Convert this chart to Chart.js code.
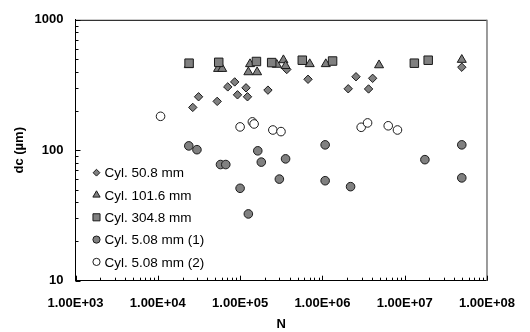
<!DOCTYPE html>
<html>
<head>
<meta charset="utf-8">
<script src="https://cdn.jsdelivr.net/npm/chart.js@4/dist/chart.umd.min.js"></script>
<style>
html,body{margin:0;padding:0;background:#fff;}
#wrap{width:530px;height:332px;position:relative;}
</style>
</head>
<body>
<div id="wrap"><canvas id="c" width="530" height="332"></canvas></div>
<script>
// ---- data ----
const seriesNames = ['Cyl. 50.8 mm', 'Cyl. 101.6 mm', 'Cyl. 304.8 mm', 'Cyl. 5.08 mm (1)', 'Cyl. 5.08 mm (2)'];

const cyl508N  = [2.66e4, 3.13e4, 5.27e4, 7.08e4, 8.6e4, 9.3e4, 1.18e5, 1.23e5, 2.18e5, 3.69e5, 6.69e5, 2.06e6, 2.56e6, 3.64e6, 4.08e6, 4.94e7];
const cyl508Dc = [213, 257, 237, 306, 334, 266, 301, 257, 289, 416, 350, 296, 366, 295, 356, 433];

const cyl1016N  = [2.38e4, 5.4e4, 6.06e4, 1.26e5, 1.32e5, 1.61e5, 2.79e5, 3.36e5, 3.57e5, 7.02e5, 1.10e6, 4.88e6, 4.94e7];
const cyl1016Dc = [450, 421, 421, 397, 458, 397, 453, 491, 443, 458, 458, 449, 494];

const cyl3048N  = [2.4e4, 5.5e4, 1.58e5, 2.42e5, 5.70e5, 1.33e6, 1.31e7, 1.93e7];
const cyl3048Dc = [465, 472, 479, 470, 490, 483, 465, 490];

const cyl5a_N  = [2.38e4, 2.99e4, 5.78e4, 6.70e4, 1.0e5, 1.26e5, 1.64e5, 1.81e5, 3.0e5, 3.57e5, 1.08e6, 1.08e6, 2.20e6, 1.76e7, 4.94e7, 4.94e7];
const cyl5a_Dc = [108, 101, 77.7, 77.7, 51.1, 32.5, 99, 81.1, 60.1, 85.9, 110, 58.4, 52.6, 84.7, 110, 61.4];

const cyl5b_N  = [1.08e4, 1.0e5, 1.41e5, 1.48e5, 2.50e5, 3.14e5, 2.96e6, 3.54e6, 6.31e6, 8.17e6];
const cyl5b_Dc = [182, 151, 165, 159, 143, 139, 150, 162, 154, 143];

const xTickValues = [1e3, 1e4, 1e5, 1e6, 1e7, 1e8];
const xTickLabels = ['1.00E+03', '1.00E+04', '1.00E+05', '1.00E+06', '1.00E+07', '1.00E+08'];
const yTickValues = [10, 100, 1000];
const yTickLabels = ['10', '100', '1000'];

// ---- build ----
function pts(xs, ys) { return xs.map((x, i) => ({x: x, y: ys[i]})); }

const GREY = '#808080';
const EDGE = '#1a1a1a';
const FONT = '"Liberation Sans", Arial, sans-serif';

const datasets = [
  {label: seriesNames[0], data: pts(cyl508N, cyl508Dc), pointStyle: 'rectRot', pointRadius: 4.2, backgroundColor: GREY, borderColor: EDGE, order: 5, legendRadius: 3.4},
  {label: seriesNames[1], data: pts(cyl1016N, cyl1016Dc), pointStyle: 'triangle', pointRadius: 5.2, backgroundColor: GREY, borderColor: EDGE, order: 4, legendRadius: 4.2},
  {label: seriesNames[2], data: pts(cyl3048N, cyl3048Dc), pointStyle: 'rect', pointRadius: 6, backgroundColor: GREY, borderColor: EDGE, order: 3, legendRadius: 5},
  {label: seriesNames[3], data: pts(cyl5a_N, cyl5a_Dc), pointStyle: 'circle', pointRadius: 4.3, backgroundColor: GREY, borderColor: EDGE, order: 2, legendRadius: 3.6},
  {label: seriesNames[4], data: pts(cyl5b_N, cyl5b_Dc), pointStyle: 'circle', pointRadius: 4.3, backgroundColor: '#ffffff', borderColor: EDGE, order: 1, legendRadius: 3.6}
];
datasets.forEach(d => { d.borderWidth = 1; d.pointHoverRadius = d.pointRadius; d.showLine = false; });

// minor/major ticks (inward) + frame + legend inside plot
const decorPlugin = {
  id: 'decor',
  afterDraw(chart) {
    const ctx = chart.ctx, a = chart.chartArea;
    const xs = chart.scales.x, ys = chart.scales.y;
    ctx.save();
    // frame top + right
    ctx.strokeStyle = '#000'; ctx.lineWidth = 1;
    ctx.beginPath(); ctx.moveTo(a.left, a.top + 0.5); ctx.lineTo(a.right, a.top + 0.5); ctx.stroke();
    ctx.strokeStyle = '#7a7a7a'; ctx.lineWidth = 1.5;
    ctx.beginPath(); ctx.moveTo(a.right, a.top); ctx.lineTo(a.right, a.bottom); ctx.stroke();
    // ticks
    ctx.strokeStyle = '#000'; ctx.lineWidth = 1;
    for (let e = 3; e <= 8; e++) {
      for (let m = 1; m <= 9; m++) {
        const v = m * Math.pow(10, e);
        if (v > 1e8) break;
        const px = Math.round(xs.getPixelForValue(v)) + 0.5;
        const len = m === 1 ? 5 : 3;
        ctx.beginPath(); ctx.moveTo(px, a.bottom); ctx.lineTo(px, a.bottom - len); ctx.stroke();
      }
    }
    for (let e = 1; e <= 3; e++) {
      for (let m = 1; m <= 9; m++) {
        const v = m * Math.pow(10, e);
        if (v > 1000) break;
        const py = Math.round(ys.getPixelForValue(v)) + 0.5;
        const len = m === 1 ? 5 : 3;
        ctx.beginPath(); ctx.moveTo(a.left, py); ctx.lineTo(a.left + len, py); ctx.stroke();
      }
    }
    // legend
    const lx = a.left + 21, ly0 = a.bottom - 108, step = 22.3;
    ctx.font = '13.5px ' + FONT;
    ctx.textBaseline = 'middle'; ctx.textAlign = 'left';
    chart.data.datasets.forEach((d, i) => {
      const y = ly0 + i * step;
      ctx.fillStyle = d.backgroundColor; ctx.strokeStyle = d.borderColor; ctx.lineWidth = 1;
      Chart.helpers.drawPoint(ctx, {pointStyle: d.pointStyle, radius: d.legendRadius, borderWidth: 1, rotation: 0}, lx, y);
      ctx.fillStyle = '#000';
      ctx.fillText(d.label, lx + 8, y + 1);
    });
    ctx.restore();
  }
};

new Chart(document.getElementById('c'), {
  type: 'scatter',
  data: {datasets: datasets},
  options: {
    responsive: false,
    animation: false,
    events: [],
    layout: {padding: {top: 15, right: 35, left: 0, bottom: 0}},
    plugins: {legend: {display: false}, tooltip: {enabled: false}},
    scales: {
      x: {
        type: 'logarithmic', min: 1e3, max: 1e8,
        afterBuildTicks(s) { s.ticks = xTickValues.map(v => ({value: v, major: true})); },
        afterFit(s) { s.height = 51.3; },
        ticks: {
          autoSkip: false, maxRotation: 0, padding: 15, color: '#000',
          font: {family: FONT, size: 13, weight: 'bold'},
          callback: (v) => { const i = xTickValues.indexOf(v); return i >= 0 ? xTickLabels[i] : ''; }
        },
        grid: {display: true, drawOnChartArea: false, drawTicks: false},
        border: {display: true, color: '#000', width: 1},
        title: {display: true, text: 'N', color: '#000', padding: {top: 0, bottom: 0}, font: {family: FONT, size: 13, weight: 'bold'}}
      },
      y: {
        type: 'logarithmic', min: 10, max: 1000,
        afterBuildTicks(s) { s.ticks = yTickValues.map(v => ({value: v, major: true})); },
        afterFit(s) { s.width = 75.5; },
        ticks: {
          autoSkip: false, padding: 12, color: '#000',
          font: {family: FONT, size: 13, weight: 'bold'},
          callback: (v) => { const i = yTickValues.indexOf(v); return i >= 0 ? yTickLabels[i] : ''; }
        },
        grid: {display: true, drawOnChartArea: false, drawTicks: false},
        border: {display: true, color: '#000', width: 1},
        title: {display: true, text: 'dc (µm)', color: '#000', padding: {top: 12, bottom: 0}, font: {family: FONT, size: 13, weight: 'bold'}}
      }
    }
  },
  plugins: [decorPlugin]
});
</script>
</body>
</html>
